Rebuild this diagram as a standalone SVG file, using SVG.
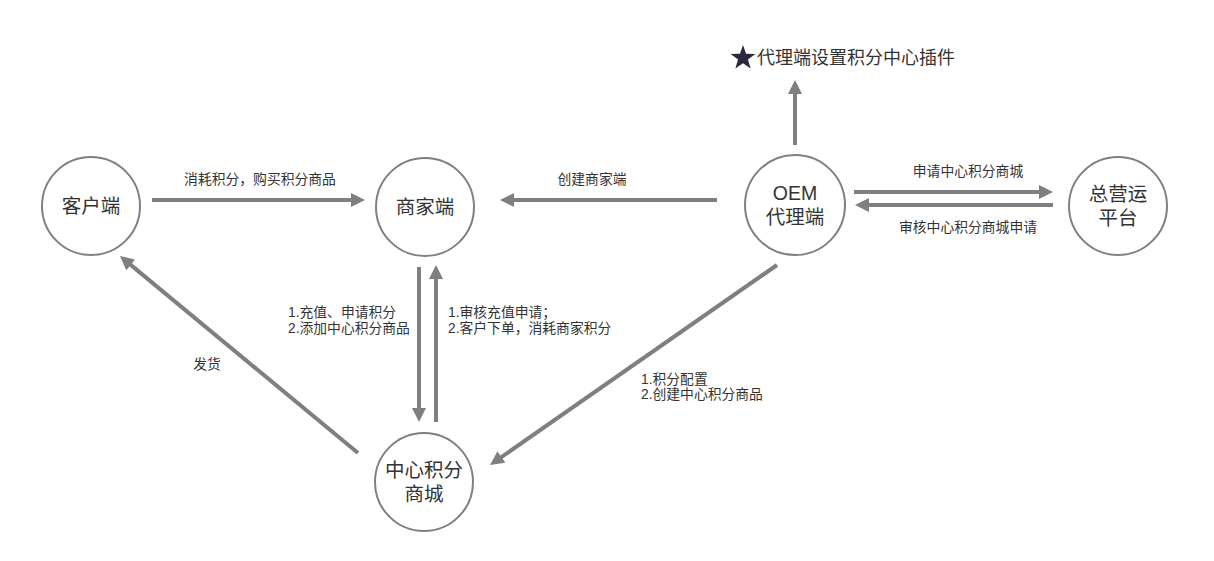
<svg xmlns="http://www.w3.org/2000/svg" width="1214" height="561" viewBox="0 0 1214 561">
<style>
.node{fill:#fff;stroke:#808080;stroke-width:2}
.nt{font-family:"Liberation Sans","Noto Sans CJK SC",sans-serif;font-size:19.5px;fill:#333;text-anchor:middle}
.lb{font-family:"Liberation Sans","Noto Sans CJK SC",sans-serif;font-size:13.8px;fill:#333}
.ar{stroke:#7f7f7f;stroke-width:4;fill:none;marker-end:url(#ah)}
</style>
<defs>
<marker id="ah" markerUnits="userSpaceOnUse" markerWidth="14" markerHeight="14" refX="4" refY="7" orient="auto">
<path d="M0,0 L14,7 L0,14 z" fill="#7f7f7f"/>
</marker>
</defs>
<rect width="1214" height="561" fill="#fff"/>
<g id="connectors">
<line class="ar" x1="152" y1="200" x2="355" y2="200"/>
<line class="ar" x1="717" y1="200" x2="510" y2="200"/>
<line class="ar" x1="795" y1="145" x2="795" y2="90"/>
<line class="ar" x1="854" y1="192" x2="1043" y2="192"/>
<line class="ar" x1="1053" y1="205" x2="865" y2="205"/>
<line class="ar" x1="419" y1="267" x2="419" y2="412"/>
<line class="ar" x1="436" y1="422" x2="436" y2="275"/>
<line class="ar" x1="358" y1="453" x2="127.7" y2="262.4"/>
<line class="ar" x1="777" y1="265" x2="498.2" y2="459.3"/>
<text class="lb" x="260" y="184" text-anchor="middle">消耗积分，购买积分商品</text>
<text class="lb" x="592" y="184" text-anchor="middle">创建商家端</text>
<text class="lb" x="968" y="176" text-anchor="middle">申请中心积分商城</text>
<text class="lb" x="968" y="232" text-anchor="middle">审核中心积分商城申请</text>
<text class="lb" x="288" y="317">1.充值、申请积分</text>
<text class="lb" x="288" y="333">2.添加中心积分商品</text>
<text class="lb" x="448" y="317">1.审核充值申请；</text>
<text class="lb" x="448" y="333">2.客户下单，消耗商家积分</text>
<text class="lb" x="207" y="369" text-anchor="middle">发货</text>
<text class="lb" x="641" y="384">1.积分配置</text>
<text class="lb" x="641" y="399">2.创建中心积分商品</text>
</g>
<g id="plugin">
<polygon points="743,45 746.06,53.79 755.36,53.98 747.95,59.61 750.64,68.52 743,63.2 735.36,68.52 738.05,59.61 730.64,53.98 739.94,53.79" fill="#2a2a3c"/>
<text x="757" y="64" font-family="'Liberation Sans','Noto Sans CJK SC',sans-serif" font-size="18px" fill="#333">代理端设置积分中心插件</text>
</g>
<g id="customer">
<circle class="node" cx="91" cy="206" r="49"/>
<text class="nt" x="91" y="213">客户端</text>
</g>
<g id="merchant">
<circle class="node" cx="425" cy="207" r="49"/>
<text class="nt" x="425" y="214">商家端</text>
</g>
<g id="oem">
<circle class="node" cx="795" cy="205" r="50"/>
<text class="nt" x="795" y="200">OEM</text>
<text class="nt" x="795" y="224">代理端</text>
</g>
<g id="platform">
<circle class="node" cx="1118" cy="206" r="49"/>
<text class="nt" x="1118" y="201">总营运</text>
<text class="nt" x="1118" y="225">平台</text>
</g>
<g id="mall">
<circle class="node" cx="424" cy="482" r="49"/>
<text class="nt" x="424" y="477">中心积分</text>
<text class="nt" x="424" y="501">商城</text>
</g>
</svg>
